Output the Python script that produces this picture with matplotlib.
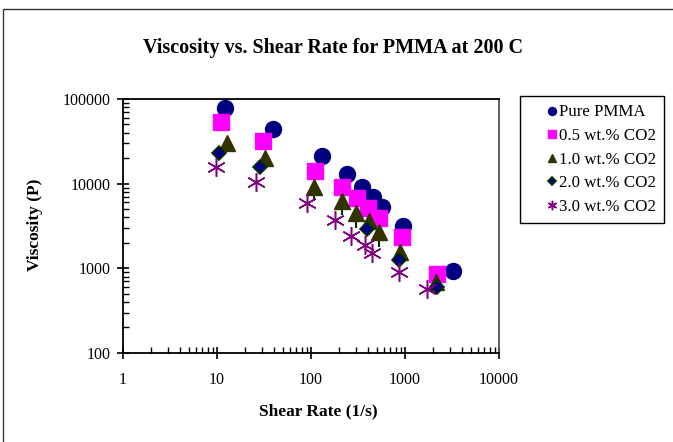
import matplotlib.pyplot as plt
from matplotlib.ticker import LogLocator, NullFormatter, FixedFormatter, FixedLocator
from matplotlib.patches import Rectangle

plt.rcParams['font.family'] = ['Liberation Serif', 'DejaVu Serif']

# shear rate (1/s) and viscosity (P)
pure_x = [12.2, 39.7, 130, 243, 346, 460, 565, 945, 3215]
pure_y = [78700, 43700, 21200, 13000, 9040, 6890, 5340, 3160, 937]

co2_05_x = [11.1, 30.9, 110, 215, 308, 407, 533, 922, 2207]
co2_05_y = [52900, 31600, 14200, 9040, 6700, 5200, 3890, 2360, 857]

co2_10_x = [12.7, 32.6, 108, 214, 299, 411, 525, 885, 2137]
co2_10_y = [29900, 19900, 9200, 6290, 4540, 3650, 2700, 1570, 695]
co2_10_err = [0, 0, 2980, 2040, 1540, 1200, 910, 0, 0]

co2_20_x = [10.5, 28.5, 397, 871, 2173]
co2_20_y = [23200, 15600, 2910, 1250, 597]

co2_30_x = [9.76, 25.8, 91.4, 180, 264, 375, 442, 863, 1700]
co2_30_y = [15600, 10500, 5950, 3720, 2400, 1880, 1530, 912, 565]

labels = ['Pure PMMA', '0.5 wt.% CO2', '1.0 wt.% CO2', '2.0 wt.% CO2', '3.0 wt.% CO2']

fig = plt.figure(figsize=(6.73, 4.42), dpi=100)
ax = fig.add_axes([0.1828, 0.2014, 0.5587, 0.5746])

# outer chart border
fig.patches.append(Rectangle((3 / 673, -0.05), 1.0, 1 - 9 / 442 + 0.05, transform=fig.transFigure,
                             fill=False, edgecolor='#333333', linewidth=1.0))

h1, = ax.plot(pure_x, pure_y, 'o', color='#000080', ms=11.5, mec='#000080', zorder=3)
h2, = ax.plot(co2_05_x, co2_05_y, 's', color='#FF00FF', ms=11, mec='#FF00FF', zorder=4)
ax.errorbar(co2_10_x, co2_10_y, yerr=[co2_10_err, [0] * len(co2_10_err)], fmt='none',
            ecolor='#003300', elinewidth=1.5, capsize=0, zorder=4.5)
h3, = ax.plot(co2_10_x, co2_10_y, '^', color='#333300', ms=11.5, mec='#333300', zorder=5)
h4, = ax.plot(co2_20_x, co2_20_y, 'D', color='#000080', ms=7.5, mec='#003300', mew=1.2, zorder=6)
h5, = ax.plot(co2_30_x, co2_30_y, marker=(6, 2, 0), ls='none', color='#800080', ms=13.5,
              mew=1.1, zorder=7)

ax.set_xscale('log')
ax.set_yscale('log')
ax.set_xlim(1, 10000)
ax.set_ylim(100, 100000)

xt = [1, 10, 100, 1000, 10000]
yt = [100, 1000, 10000, 100000]
ax.xaxis.set_major_locator(FixedLocator(xt))
ax.xaxis.set_major_formatter(FixedFormatter([str(v) for v in xt]))
ax.yaxis.set_major_locator(FixedLocator(yt))
ax.yaxis.set_major_formatter(FixedFormatter([str(v) for v in yt]))
ax.xaxis.set_minor_locator(LogLocator(base=10, subs=range(2, 10), numticks=20))
ax.yaxis.set_minor_locator(LogLocator(base=10, subs=range(2, 10), numticks=20))
ax.xaxis.set_minor_formatter(NullFormatter())
ax.yaxis.set_minor_formatter(NullFormatter())

ax.tick_params(which='major', direction='inout', length=8, width=1.2, labelsize=11.5, pad=5)
ax.tick_params(which='minor', direction='in', length=4, width=1.0)
ax.tick_params(axis='x', which='major', pad=10)

for s in ax.spines.values():
    s.set_linewidth(1.3)
ax.spines['right'].set_color('#555555')

ax.set_xlabel('Shear Rate (1/s)', fontsize=12.5, fontweight='bold')
ax.xaxis.set_label_coords(0.52, -0.197)
ax.set_ylabel('Viscosity (P)', fontsize=12.5, fontweight='bold')
ax.yaxis.set_label_coords(-0.212, 0.505)
fig.text(333 / 673, 1 - 48 / 442, 'Viscosity vs. Shear Rate for PMMA at 200 C', ha='center',
         va='center', fontsize=14.5, fontweight='bold')

leg = fig.legend([h1, h2, h3, h4, h5], labels, loc='upper left',
                 bbox_to_anchor=(520 / 673, 1 - 96 / 442), fontsize=12.2, markerscale=0.5,
                 handlelength=2.8, handletextpad=-1.0, labelspacing=0.45, borderpad=0.5,
                 fancybox=False, framealpha=1, edgecolor='black', borderaxespad=0)
leg.get_frame().set_linewidth(1.0)

fig.savefig('out.png', dpi=100)
